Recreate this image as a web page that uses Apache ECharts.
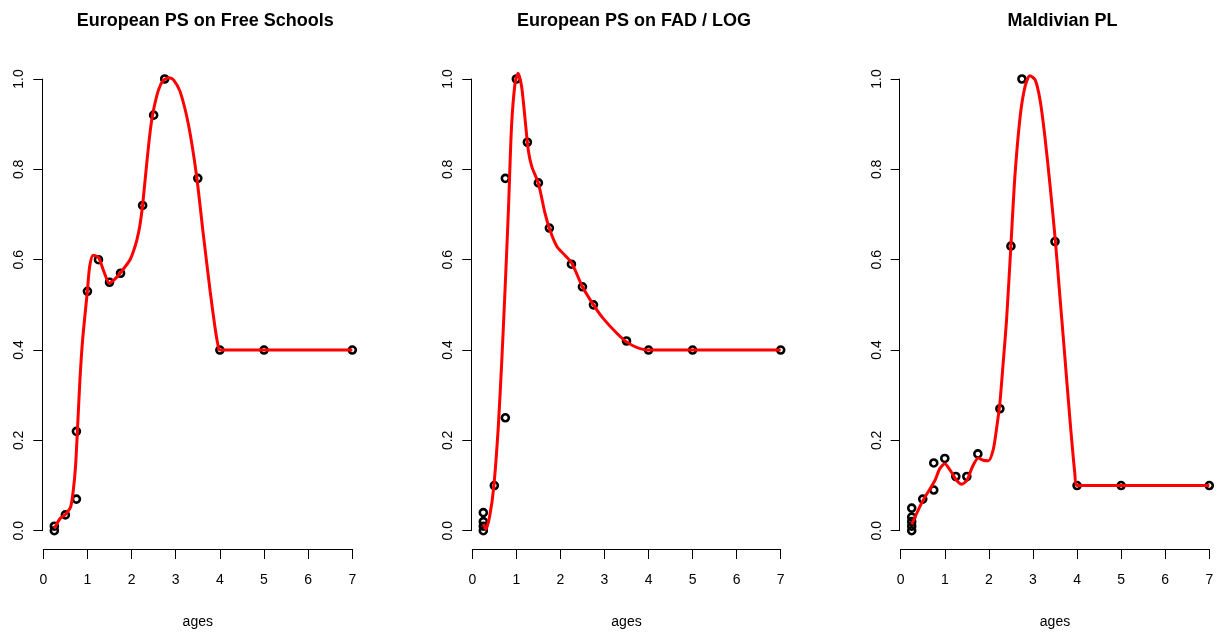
<!DOCTYPE html>
<html>
<head>
<meta charset="utf-8">
<script src="https://cdn.jsdelivr.net/npm/echarts@6/dist/echarts.min.js"></script>
<style>
html,body{margin:0;padding:0;background:#fff;}
#chart{width:1229px;height:639px;}
</style>
</head>
<body>
<div id="chart"></div>
<script>
// ---- data ----
var titles = ["European PS on Free Schools", "European PS on FAD / LOG", "Maldivian PL"];
var xTicks = [0, 1, 2, 3, 4, 5, 6, 7];
var yTicks = [0, 0.2, 0.4, 0.6, 0.8, 1.0];

// Panel 1 observed points
var ages1 = [0.25, 0.25, 0.5, 0.75, 0.75, 1.0, 1.25, 1.5, 1.75, 2.25, 2.5, 2.75, 3.5, 4, 5, 7];
var vals1 = [0.0, 0.01, 0.035, 0.22, 0.07, 0.53, 0.60, 0.55, 0.57, 0.72, 0.92, 1.0, 0.78, 0.40, 0.40, 0.40];
// Panel 1 fitted curve
var curveX1 = [0.25, 0.38, 0.5, 0.62, 0.68, 0.73, 0.77, 0.83, 0.89, 1.0, 1.05, 1.13, 1.25, 1.36, 1.5, 1.62, 1.74, 1.96, 2.04, 2.12, 2.19, 2.25, 2.34, 2.42, 2.49, 2.61, 2.72, 2.85, 2.95, 3.10, 3.29, 3.47, 3.62, 3.78, 3.89, 3.95, 4.0, 5, 7];
var curveY1 = [0.005, 0.027, 0.036, 0.053, 0.09, 0.142, 0.216, 0.334, 0.422, 0.532, 0.585, 0.610, 0.605, 0.577, 0.548, 0.557, 0.570, 0.599, 0.618, 0.644, 0.677, 0.721, 0.81, 0.883, 0.928, 0.976, 0.997, 1.003, 0.998, 0.972, 0.898, 0.787, 0.66, 0.53, 0.45, 0.415, 0.40, 0.40, 0.40];

// Panel 2 observed points
var ages2 = [0.25, 0.25, 0.25, 0.25, 0.5, 0.75, 0.75, 1.0, 1.25, 1.5, 1.75, 2.25, 2.5, 2.75, 3.5, 4, 5, 7];
var vals2 = [0.0, 0.01, 0.02, 0.04, 0.10, 0.25, 0.78, 1.0, 0.86, 0.77, 0.67, 0.59, 0.54, 0.50, 0.42, 0.40, 0.40, 0.40];
var curveX2 = [0.25, 0.31, 0.40, 0.49, 0.59, 0.67, 0.74, 0.82, 0.89, 0.97, 1.04, 1.12, 1.20, 1.27, 1.35, 1.50, 1.65, 1.76, 1.92, 2.10, 2.26, 2.5, 2.75, 2.97, 3.28, 3.5, 3.73, 4.0, 5, 7];
var curveY2 = [0.015, 0.004, 0.035, 0.10, 0.23, 0.378, 0.526, 0.71, 0.894, 0.99, 1.013, 0.983, 0.909, 0.843, 0.806, 0.769, 0.703, 0.666, 0.629, 0.610, 0.592, 0.54, 0.50, 0.47, 0.437, 0.418, 0.406, 0.40, 0.40, 0.40];

// Panel 3 observed points
var ages3 = [0.25, 0.25, 0.25, 0.25, 0.25, 0.5, 0.75, 0.75, 1.0, 1.25, 1.5, 1.75, 2.25, 2.5, 2.75, 3.5, 4, 5, 7];
var vals3 = [0.0, 0.01, 0.02, 0.03, 0.05, 0.07, 0.15, 0.09, 0.16, 0.12, 0.12, 0.17, 0.27, 0.63, 1.0, 0.64, 0.10, 0.10, 0.10];
var curveX3 = [0.25, 0.5, 0.77, 0.89, 1.0, 1.12, 1.27, 1.38, 1.5, 1.62, 1.76, 1.87, 1.99, 2.10, 2.18, 2.25, 2.33, 2.40, 2.49, 2.59, 2.71, 2.82, 2.93, 3.05, 3.16, 3.27, 3.39, 3.51, 3.61, 3.70, 3.84, 3.95, 4.0, 5, 7];
var curveY3 = [0.014, 0.066, 0.11, 0.138, 0.148, 0.134, 0.111, 0.103, 0.111, 0.14, 0.161, 0.156, 0.155, 0.18, 0.23, 0.283, 0.378, 0.465, 0.614, 0.784, 0.917, 0.983, 1.007, 0.998, 0.954, 0.873, 0.762, 0.640, 0.52, 0.413, 0.245, 0.127, 0.10, 0.10, 0.10];

var pts = [[ages1, vals1], [ages2, vals2], [ages3, vals3]];
var curves = [[curveX1, curveY1], [curveX2, curveY2], [curveX3, curveY3]];

// ---- layout ----
var gridLefts = [43.3, 472.3, 900.7];
var gridWidths = [309, 308.4, 308.6];
var FONT = '"Liberation Sans", Arial, Helvetica, sans-serif';

function zip(a, b) { return a.map(function (v, i) { return [v, b[i]]; }); }

var grids = [], xAxes = [], yAxes = [], series = [], titleArr = [];
for (var p = 0; p < 3; p++) {
  grids.push({ left: gridLefts[p], top: 79, width: gridWidths[p], height: 451.7, containLabel: false });
  titleArr.push({
    text: titles[p],
    left: gridLefts[p] + gridWidths[p] / 2 + 2.5,
    top: 7,
    textAlign: 'center',
    textStyle: { fontFamily: FONT, fontSize: 18, fontWeight: 'bold', color: '#000' }
  });
  xAxes.push({
    gridIndex: p, type: 'value', min: xTicks[0], max: xTicks[xTicks.length - 1], interval: 1,
    offset: 18.3,
    name: 'ages', nameLocation: 'middle', nameGap: 66,
    nameTextStyle: { fontFamily: FONT, fontSize: 14, color: '#000' },
    axisLine: { show: true, onZero: false, lineStyle: { color: '#000', width: 1 } },
    axisTick: { show: true, length: 10, lineStyle: { color: '#000', width: 1 } },
    axisLabel: { margin: 24, fontFamily: FONT, fontSize: 14, color: '#000' },
    splitLine: { show: false }
  });
  yAxes.push({
    gridIndex: p, type: 'value', min: yTicks[0], max: yTicks[yTicks.length - 1], interval: 0.2,
    offset: 1,
    axisLine: { show: true, onZero: false, lineStyle: { color: '#000', width: 1 } },
    axisTick: { show: true, length: 9, lineStyle: { color: '#000', width: 1 } },
    axisLabel: { rotate: 90, margin: 16, fontFamily: FONT, fontSize: 14, color: '#000',
      formatter: function (v) { return v.toFixed(1); } },
    splitLine: { show: false }
  });
  series.push({
    type: 'scatter', xAxisIndex: p, yAxisIndex: p,
    data: zip(pts[p][0], pts[p][1]),
    symbol: 'circle', symbolSize: 7,
    clip: false, z: 2,
    itemStyle: { color: 'rgba(0,0,0,0)', borderColor: '#000', borderWidth: 2.6, opacity: 1 },
    emphasis: { disabled: true }
  });
  series.push({
    type: 'line', xAxisIndex: p, yAxisIndex: p,
    data: zip(curves[p][0], curves[p][1]),
    showSymbol: false, smooth: 0.25, clip: false, z: 3,
    lineStyle: { color: '#ff0000', width: 3 },
    emphasis: { disabled: true }
  });
}

var chart = echarts.init(document.getElementById('chart'), null, { renderer: 'canvas' });
chart.setOption({
  animation: false,
  backgroundColor: '#fff',
  title: titleArr,
  grid: grids,
  xAxis: xAxes,
  yAxis: yAxes,
  series: series
});
</script>
</body>
</html>
